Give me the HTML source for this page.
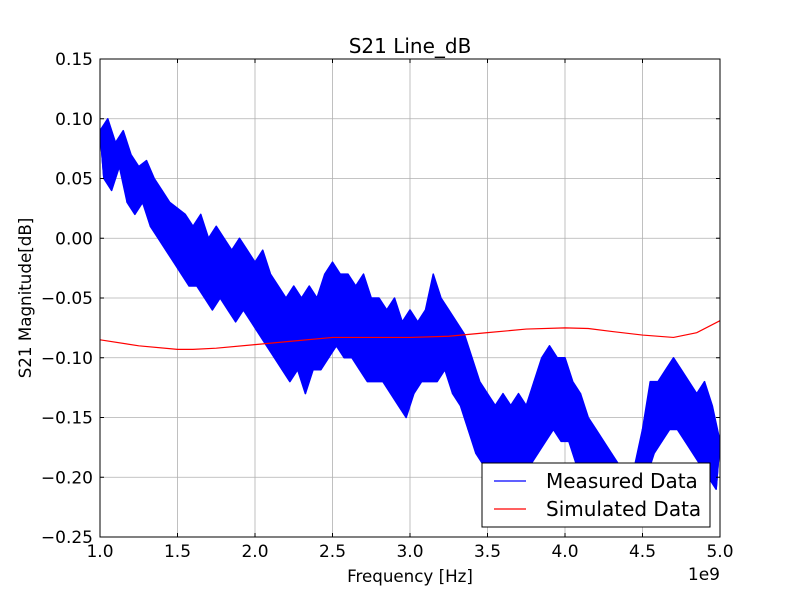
<!DOCTYPE html>
<html><head><meta charset="utf-8"><style>
body{margin:0;background:#fff}
svg{font-family:"DejaVu Sans","Liberation Sans",sans-serif}
</style></head><body>
<svg id="chart" width="800" height="597" viewBox="0 0 800 597" xmlns="http://www.w3.org/2000/svg">
<rect width="800" height="597" fill="#fff"/>
<defs><clipPath id="pa"><rect x="100" y="59" width="620" height="478"/></clipPath></defs>
<g id="grid"></g><g id="series" clip-path="url(#pa)"></g><g id="axes"></g>
</svg>
<script>
const xTicks=[1.0,1.5,2.0,2.5,3.0,3.5,4.0,4.5,5.0];
const xTickLabels=["1.0","1.5","2.0","2.5","3.0","3.5","4.0","4.5","5.0"];
const yTicks=[0.15,0.10,0.05,0.00,-0.05,-0.10,-0.15,-0.20,-0.25];
const yTickLabels=["0.15","0.10","0.05","0.00","\u22120.05","\u22120.10","\u22120.15","\u22120.20","\u22120.25"];
const measuredStart=1.0, measuredStep=0.025;
const measured=[0.09,0.05,0.10,0.04,0.08,0.06,0.09,0.03,
0.07,0.02,0.06,0.03,0.065,0.01,0.05,0.0,
0.04,-0.01,0.03,-0.02,0.025,-0.03,0.02,-0.04,
0.01,-0.04,0.02,-0.05,0.0,-0.06,0.01,-0.05,
0.0,-0.06,-0.01,-0.07,0.0,-0.06,-0.01,-0.07,
-0.02,-0.08,-0.01,-0.09,-0.03,-0.10,-0.04,-0.11,
-0.05,-0.12,-0.04,-0.11,-0.05,-0.13,-0.04,-0.11,
-0.05,-0.11,-0.03,-0.10,-0.02,-0.09,-0.03,-0.10,
-0.03,-0.10,-0.04,-0.11,-0.03,-0.12,-0.05,-0.12,
-0.05,-0.12,-0.06,-0.13,-0.05,-0.14,-0.07,-0.15,
-0.06,-0.13,-0.07,-0.12,-0.06,-0.12,-0.03,-0.12,
-0.05,-0.11,-0.06,-0.13,-0.07,-0.14,-0.08,-0.16,
-0.10,-0.18,-0.12,-0.19,-0.13,-0.20,-0.14,-0.21,
-0.13,-0.20,-0.14,-0.19,-0.13,-0.20,-0.14,-0.19,
-0.12,-0.18,-0.10,-0.17,-0.09,-0.16,-0.10,-0.17,
-0.10,-0.17,-0.12,-0.19,-0.13,-0.20,-0.15,-0.21,
-0.16,-0.22,-0.17,-0.23,-0.18,-0.24,-0.19,-0.24,
-0.20,-0.24,-0.19,-0.23,-0.16,-0.20,-0.12,-0.18,
-0.12,-0.17,-0.11,-0.16,-0.10,-0.16,-0.11,-0.17,
-0.12,-0.18,-0.13,-0.19,-0.12,-0.20,-0.14,-0.21,
-0.17];
const simX=[1.0,1.25,1.5,1.6,1.75,2.0,2.25,2.5,2.75,3.0,3.25,3.5,3.75,4.0,4.15,4.3,4.5,4.7,4.85,5.0];
const simY=[-0.085,-0.090,-0.093,-0.093,-0.092,-0.089,-0.086,-0.083,-0.083,-0.083,-0.082,-0.079,-0.076,-0.075,-0.0755,-0.078,-0.081,-0.083,-0.079,-0.069];
const NS="http://www.w3.org/2000/svg";
const L=100,R=720,T=59,B=537;
const xs=v=>L+(v-1.0)/4.0*(R-L);
const ys=v=>T+(0.15-v)/0.40*(B-T);
function mk(tag,attrs,parent){const e=document.createElementNS(NS,tag);for(const k in attrs)e.setAttribute(k,attrs[k]);parent.appendChild(e);return e;}
const grid=document.getElementById('grid'),ser=document.getElementById('series'),ax=document.getElementById('axes');
xTicks.forEach((t,i)=>{const x=xs(t);
 const g=mk('line',{x1:x,x2:x,y1:T,y2:B,stroke:'#b0b0b0','stroke-width':0.8},grid);
 
 mk('line',{x1:x,x2:x,y1:B,y2:B-4,stroke:'#000'},ax);mk('line',{x1:x,x2:x,y1:T,y2:T+4,stroke:'#000'},ax);
 const tx=mk('text',{x:x,y:B+20,'text-anchor':'middle','font-size':17},ax);tx.textContent=xTickLabels[i];
 });
yTicks.forEach((t,i)=>{const y=ys(t);
 const g=mk('line',{x1:L,x2:R,y1:y,y2:y,stroke:'#b0b0b0','stroke-width':0.8},grid);
 
 mk('line',{x1:L,x2:L+4,y1:y,y2:y,stroke:'#000'},ax);mk('line',{x1:R,x2:R-4,y1:y,y2:y,stroke:'#000'},ax);
 const tx=mk('text',{x:L-7,y:y+6,'text-anchor':'end','font-size':17},ax);tx.textContent=yTickLabels[i];
 });
const upper=[],lower=[];
measured.forEach((v,i)=>{const p=xs(measuredStart+i*measuredStep)+','+ys(v);(i%2===0?upper:lower).push(p);});
const band=mk('polygon',{points:upper.concat(lower.slice().reverse()).join(' '),fill:'#0000ff',stroke:'#0000ff','stroke-width':1.5,'stroke-linejoin':'round'},ser);

const mp=mk('polyline',{points:measured.map((v,i)=>xs(measuredStart+i*measuredStep)+','+ys(v)).join(' '),fill:'none',stroke:'#0000ff','stroke-width':1.5},ser);

const sp=mk('polyline',{points:simX.map((v,i)=>xs(v)+','+ys(simY[i])).join(' '),fill:'none',stroke:'#ff0000','stroke-width':1.2},ser);

const fr=mk('rect',{x:L,y:T,width:R-L,height:B-T,fill:'none',stroke:'#000','stroke-width':1},ax);

const ti=mk('text',{x:410,y:53,'text-anchor':'middle','font-size':20},ax);ti.textContent='S21 Line_dB';

const xl=mk('text',{x:410,y:582,'text-anchor':'middle','font-size':16.7},ax);xl.textContent='Frequency [Hz]';

const ex=mk('text',{x:720,y:580,'text-anchor':'end','font-size':17},ax);ex.textContent='1e9';

const yl=mk('text',{x:31,y:298,'text-anchor':'middle','font-size':16.7,transform:'rotate(-90 31 298)'},ax);yl.textContent='S21 Magnitude[dB]';

const lg=mk('g',{},ax);
mk('rect',{x:482,y:463,width:228,height:64,fill:'#fff',stroke:'#000','stroke-width':1},lg);
const e1=mk('g',{},lg);
mk('line',{x1:494,x2:526,y1:481,y2:481,stroke:'#0000ff','stroke-width':1.2},e1);
const t1=mk('text',{x:546,y:488,'font-size':20},e1);t1.textContent='Measured Data';
const e2=mk('g',{},lg);
mk('line',{x1:494,x2:526,y1:509,y2:509,stroke:'#ff0000','stroke-width':1.2},e2);
const t2=mk('text',{x:546,y:516,'font-size':20},e2);t2.textContent='Simulated Data';
</script>
</body></html>
